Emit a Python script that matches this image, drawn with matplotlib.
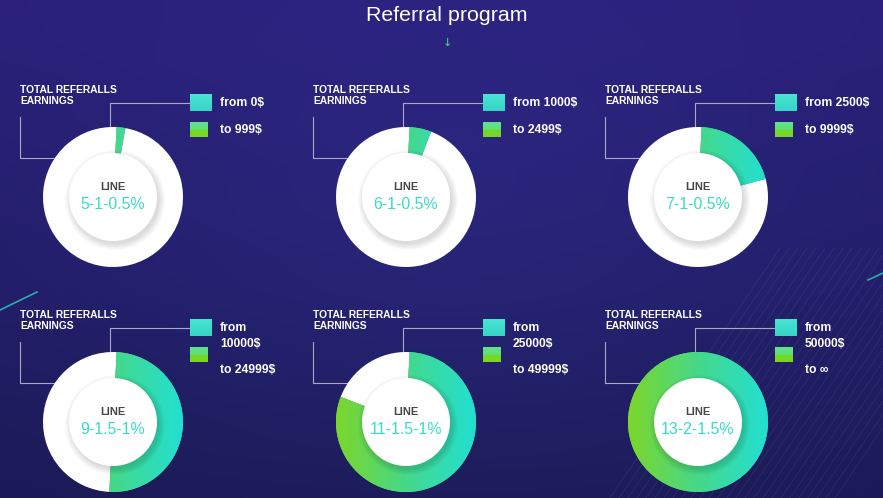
import numpy as np
import matplotlib.pyplot as plt
from matplotlib.patches import Circle, Rectangle
from matplotlib.colors import LinearSegmentedColormap

W, H = 883, 498

title = "Referral program"
levels = ["5-1-0.5%", "6-1-0.5%", "7-1-0.5%", "9-1.5-1%", "11-1.5-1%", "13-2-1.5%"]
share = [2, 5, 20, 50, 80, 100]          # filled part of the ring, %
from_labels = ["from 0$", "from 1000$", "from 2500$",
               "from\n10000$", "from\n25000$", "from\n50000$"]
to_labels = ["to 999$", "to 2499$", "to 9999$", "to 24999$", "to 49999$", "to \u221e"]
head = ["TOTAL REFERALLS", "EARNINGS"]

FONT = ["Liberation Sans", "DejaVu Sans"]
plt.rcParams['font.family'] = FONT

R_OUT = 70      # outer radius of ring (px)
R_IN = 44       # white centre disc
cols_x = [113, 406, 698]
rows_y = [197, 422]


def py(y):
    # pixel row (top = 0) -> data y
    return H - y


fig = plt.figure(figsize=(W / 100, H / 100), dpi=100)
ax = fig.add_axes([0, 0, 1, 1])

# background
yy, xx = np.mgrid[0:H, 0:W]
t = yy / H
bg = np.zeros((H, W, 3))
top = np.array([42, 32, 122]) / 255
bot = np.array([27, 26, 86]) / 255
for k in range(3):
    bg[..., k] = top[k] * (1 - t) + bot[k] * t
glow = np.exp(-(((xx - 450) / 380) ** 2 + ((yy - 230) / 260) ** 2))
bg += glow[..., None] * np.array([0.02, 0.03, 0.06])
ax.imshow(np.clip(bg, 0, 1), extent=(0, W, 0, H), origin='upper', zorder=0, aspect='auto')

# faint diagonal lines lower right
for i in range(26):
    x0 = 610 + i * 9
    ax.plot([x0, x0 + 170], [py(498), py(248)], color='white', alpha=0.055, lw=0.8, zorder=1)
ax.plot([0, 37], [py(310), py(292)], color='#2fd0c0', lw=1.2, alpha=0.8, zorder=1)
ax.plot([868, 883], [py(280), py(273)], color='#2fd0c0', lw=1.2, alpha=0.8, zorder=1)

ax.text(447, py(21), title, color='white', fontsize=15.4, ha='center', va='baseline', zorder=6)
ax.text(447, py(43), "\u2193", color='#4cd98a', fontsize=8, ha='center', va='center',
        family=['DejaVu Sans'], zorder=6)

ring_cmap = LinearSegmentedColormap.from_list("ring", ["#7dd629", "#45d98a", "#22dfd2"])
cyan_cmap = LinearSegmentedColormap.from_list("cy", ["#36d4c4", "#48e4d4"])
green_cmap = LinearSegmentedColormap.from_list("gr", [(0, "#7bd620"), (0.45, "#72d82a"),
                                                      (0.55, "#5fe080"), (1, "#62e288")])
grad = np.linspace(0, 1, 256).reshape(1, -1)
vgrad = np.linspace(0, 1, 64).reshape(-1, 1)
line_col = '#a9a9c4'

for i in range(6):
    cx = cols_x[i % 3]
    cy = rows_y[i // 3]
    ox = cx - cols_x[0]
    oy = cy - rows_y[0]

    # header
    ax.text(20 + ox, py(93 + oy), head[0], color='white', fontsize=7.4, weight='bold',
            va='baseline', zorder=6)
    ax.text(20 + ox, py(104 + oy), head[1], color='white', fontsize=7.4, weight='bold',
            va='baseline', zorder=6)

    # connector lines
    ex = cx - np.sqrt(R_OUT ** 2 - 39 ** 2)
    ax.plot([20 + ox, 20 + ox, ex], [py(117 + oy), py(158 + oy), py(158 + oy)],
            color=line_col, lw=0.8, zorder=1)
    ax.plot([cx - 3, cx - 3, 190 + ox], [py(cy - R_OUT), py(103 + oy), py(103 + oy)],
            color=line_col, lw=0.8, zorder=1)

    # legend boxes
    r1 = Rectangle((190 + ox, py(111 + oy)), 22, 17, facecolor='#40dccc', edgecolor='none', zorder=3)
    ax.add_patch(r1)
    im = ax.imshow(vgrad, cmap=cyan_cmap, extent=(190 + ox, 212 + ox, py(111 + oy), py(94 + oy)),
                   origin='lower', aspect='auto', zorder=3)
    im.set_clip_path(r1)
    r2 = Rectangle((190 + ox, py(137 + oy)), 18, 15, facecolor='#6cdc50', edgecolor='none', zorder=3)
    ax.add_patch(r2)
    im = ax.imshow(vgrad, cmap=green_cmap, extent=(190 + ox, 208 + ox, py(137 + oy), py(122 + oy)),
                   origin='lower', aspect='auto', zorder=3)
    im.set_clip_path(r2)

    # legend texts
    lines = from_labels[i].split("\n")
    for j, s in enumerate(lines):
        ax.text(220 + ox, py(106 + oy + 15.7 * j), s, color='white', fontsize=8.7,
                weight='bold', va='baseline', zorder=6)
    to_y = 133 if len(lines) == 1 else 148
    ax.text(220 + ox, py(to_y + oy), to_labels[i], color='white', fontsize=8.7,
            weight='bold', va='baseline', zorder=6)

    # donut
    wedges, _ = ax.pie([share[i], 100 - share[i]], center=(cx, py(cy)), radius=R_OUT,
                       startangle=87, counterclock=False, colors=['#45d98a', 'white'],
                       wedgeprops=dict(width=R_OUT - R_IN + 2, edgecolor='none'))
    for w in wedges:
        w.set_zorder(2)
    im = ax.imshow(grad, cmap=ring_cmap, extent=(cx - R_OUT, cx + R_OUT, py(cy + R_OUT), py(cy - R_OUT)),
                   origin='lower', aspect='auto', interpolation='bicubic', zorder=3)
    im.set_clip_path(wedges[0])

    # shadow of centre disc
    for k in range(7, 0, -1):
        ax.add_patch(Circle((cx + 2, py(cy) - 3), R_IN + k - 1, facecolor='black',
                            edgecolor='none', alpha=0.02, zorder=4))
    ax.add_patch(Circle((cx, py(cy)), R_IN, facecolor='white', edgecolor='none', zorder=5))

    ax.text(cx, py(cy - 7), "LINE", color='#474747', fontsize=8, weight='bold',
            ha='center', va='baseline', zorder=6)
    ax.text(cx, py(cy + 12), levels[i], color='#38dcc4', fontsize=11.4,
            ha='center', va='baseline', zorder=6)

ax.set_xlim(0, W)
ax.set_ylim(0, H)
ax.set_aspect('auto')
ax.axis('off')
fig.savefig("out.png", dpi=100)
